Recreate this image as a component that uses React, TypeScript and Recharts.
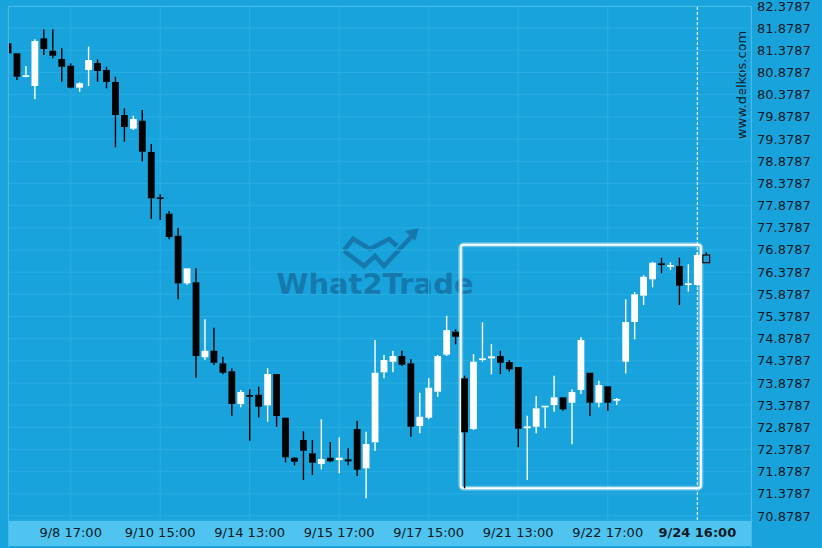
import React from "react";
import {
  Bar,
  CartesianGrid,
  ComposedChart,
  ReferenceArea,
  ReferenceLine,
  XAxis,
  YAxis,
} from "recharts";

const opens = [
  81.538, 81.312, 80.785, 80.575, 81.65, 81.371, 81.184, 81.033, 80.537, 80.936,
  81.093, 80.936, 80.665, 79.921, 79.612, 79.792, 79.087, 78.065, 77.695, 77.199,
  76.126, 76.149, 74.458, 74.606, 74.322, 74.142, 73.405, 73.608, 73.614, 73.375,
  74.081, 73.096, 72.194, 72.593, 72.293, 72.052, 72.194, 72.142, 72.158, 72.841,
  71.955, 72.541, 74.119, 74.358, 74.487, 74.322, 72.909, 73.096, 73.682, 74.516,
  75.035, 73.984, 72.841, 74.397, 74.435, 74.487, 74.352, 74.239, 72.857, 72.893,
  73.33, 73.382, 73.556, 73.434, 73.72, 74.11, 73.434, 73.804, 73.479, 74.358,
  75.254, 75.847, 76.216, 76.577, 76.5, 76.516, 76.088, 76.088, 76.764,
];

const highs = [
  81.54, 81.312, 81.026, 81.628, 81.853, 81.853, 81.425, 81.087, 80.658, 81.461,
  81.177, 81.01, 80.785, 80.072, 79.905, 80.034, 79.267, 78.133, 77.756, 77.38,
  76.464, 76.464, 75.314, 75.125, 74.471, 74.21, 73.72, 73.736, 73.795, 74.21,
  74.081, 73.1, 72.21, 72.789, 72.593, 73.059, 72.548, 72.654, 72.406, 73.028,
  72.78, 74.848, 74.509, 74.606, 74.606, 74.413, 73.659, 73.984, 74.509, 75.396,
  75.089, 74.043, 74.532, 75.247, 74.758, 74.606, 74.397, 74.239, 73.141, 73.585,
  73.366, 74.043, 73.556, 73.736, 74.909, 74.11, 73.93, 73.804, 73.54, 75.765,
  75.93, 76.313, 76.613, 76.703, 76.6, 76.703, 76.555, 76.832, 76.825,
];

const lows = [
  81.3, 80.71, 80.771, 80.275, 81.274, 81.199, 80.672, 80.523, 80.446, 80.575,
  80.672, 80.523, 79.193, 79.319, 79.583, 78.877, 77.576, 77.553, 77.118, 75.765,
  76.088, 73.998, 74.397, 74.284, 74.074, 73.141, 73.33, 72.577, 73.105, 73.006,
  72.893, 72.09, 72.022, 71.691, 71.803, 71.932, 72.09, 71.842, 72.022, 71.781,
  71.278, 72.345, 73.984, 74.119, 74.261, 72.667, 72.744, 73.059, 73.569, 74.487,
  74.751, 71.504, 72.818, 74.358, 74.074, 74.081, 74.133, 72.428, 71.691, 72.744,
  72.857, 73.231, 73.254, 72.496, 73.63, 73.134, 73.33, 73.254, 73.382, 74.097,
  74.863, 75.637, 76.036, 76.352, 76.426, 75.637, 75.94, 76.07, 76.613,
];

const closes = [
  81.312, 80.785, 80.816, 81.59, 81.409, 81.258, 81.01, 80.537, 80.636, 81.161,
  80.913, 80.665, 79.921, 79.65, 79.831, 79.093, 78.043, 78.034, 77.17, 76.126,
  76.464, 74.487, 74.606, 74.336, 74.11, 73.405, 73.675, 73.569, 73.344, 74.081,
  73.134, 72.203, 72.104, 72.352, 72.081, 72.165, 72.113, 72.194, 72.113, 71.923,
  72.503, 74.11, 74.397, 74.487, 74.291, 72.893, 73.118, 73.772, 74.487, 75.073,
  74.922, 72.767, 74.358, 74.435, 74.48, 74.336, 74.187, 72.848, 72.902, 73.308,
  73.366, 73.556, 73.285, 73.675, 74.848, 73.434, 73.833, 73.434, 73.517, 75.254,
  75.878, 76.275, 76.591, 76.539, 76.539, 76.072, 76.126, 76.764, 76.591,
];

const xTickIndex = [7, 17, 27, 37, 47, 57, 67, 77];
const xTickLabels = [
  "9/8 17:00",
  "9/10 15:00",
  "9/14 13:00",
  "9/15 17:00",
  "9/17 15:00",
  "9/21 13:00",
  "9/22 17:00",
  "9/24 16:00",
];

const yTicks = [
  70.8787, 71.3787, 71.8787, 72.3787, 72.8787, 73.3787, 73.8787, 74.3787,
  74.8787, 75.3787, 75.8787, 76.3787, 76.8787, 77.3787, 77.8787, 78.3787,
  78.8787, 79.3787, 79.8787, 80.3787, 80.8787, 81.3787, 81.8787, 82.3787,
];

// highlighted pattern box and the marker candle
const boxFrom = 50.57;
const boxTo = 77.4;
const boxLow = 71.504;
const boxHigh = 76.997;
const markerIndex = 77;

const data = opens.map((open, i) => ({
  i,
  open,
  high: highs[i],
  low: lows[i],
  close: closes[i],
}));

const BG = "#18a3dc";
const FONT = "'DejaVu Sans', sans-serif";

function Candle(props: any) {
  const { x, y, width, height, payload, index } = props;
  if (!payload) return null;
  const { open, close, high, low } = payload;
  const top = Math.min(y, y + height);
  const h = Math.abs(height);
  const ratio = h / Math.max(high - low, 1e-6);
  const py = (v: number) => top + (high - v) * ratio;
  const cx = x + width / 2;
  const live = index === data.length - 1;
  const color = live ? "#0a0a0a" : close >= open ? "#ffffff" : "#000000";
  const bodyTop = py(Math.max(open, close));
  const bodyBottom = Math.max(py(Math.min(open, close)), bodyTop + 1.6);
  return (
    <g>
      <line x1={cx} x2={cx} y1={top} y2={bodyTop} stroke={color} strokeWidth={1.4} />
      <line x1={cx} x2={cx} y1={bodyBottom} y2={top + h} stroke={color} strokeWidth={1.4} />
      <rect
        x={cx - 3.4}
        y={bodyTop}
        width={6.8}
        height={bodyBottom - bodyTop}
        fill={live ? "none" : color}
        stroke={live ? color : "none"}
        strokeWidth={1.2}
      />
    </g>
  );
}

function XTick(props: any) {
  const { x, y, payload } = props;
  const k = xTickIndex.indexOf(payload.value);
  const last = k === xTickIndex.length - 1;
  return (
    <text
      x={x}
      y={y}
      dy="0.35em"
      textAnchor="middle"
      fontFamily={FONT}
      fontSize={13}
      fontWeight={last ? "bold" : "normal"}
      fill="#0b1a24"
    >
      {xTickLabels[k]}
    </text>
  );
}

function YTick(props: any) {
  const { x, y, payload } = props;
  return (
    <text x={x} y={y} dy="0.35em" textAnchor="start" fontFamily={FONT} fontSize={13} fill="#0b1a24">
      {payload.value.toFixed(4)}
    </text>
  );
}

function Watermark() {
  const c = "#1579ae";
  return (
    <svg width={822} height={548} style={{ position: "absolute", left: 0, top: 0 }}>
      <polyline
        points="344,250 353,239 370,249 389,239 397,246"
        fill="none"
        stroke={c}
        strokeWidth={4.5}
      />
      <polyline
        points="344,251 364,266 375,256 384,266 412,236"
        fill="none"
        stroke={c}
        strokeWidth={4.5}
      />
      <polygon points="419,228 405,231 415,241" fill={c} />
      <text
        x={375}
        y={294}
        textAnchor="middle"
        fontFamily={FONT}
        fontWeight="bold"
        fontSize={29}
        fill={c}
      >
        What2Trade
      </text>
      <text
        x={0}
        y={0}
        transform="translate(746 85) rotate(-90)"
        textAnchor="middle"
        fontFamily={FONT}
        fontSize={13}
        fill="#0b1a24"
      >
        www.delkos.com
      </text>
    </svg>
  );
}

export default function App() {
  return (
    <div style={{ position: "relative", width: 822, height: 548, background: BG, overflow: "hidden" }}>
      <style>{"body{margin:0}"}</style>
      <div
        style={{
          position: "absolute",
          left: 8,
          top: 521,
          width: 743,
          height: 25,
          background: "#4fc4f0",
        }}
      />
      <Watermark />
      <div style={{ position: "absolute", left: 0, top: 0 }}>
        <ComposedChart
          width={822}
          height={548}
          data={data}
          margin={{ top: 6, right: 0, bottom: 0, left: 8 }}
        >
          <CartesianGrid stroke="#2cade3" strokeWidth={1} />
          <XAxis
            dataKey="i"
            type="number"
            domain={[0, 83]}
            ticks={xTickIndex}
            allowDataOverflow
            height={28}
            axisLine={false}
            tickLine={false}
            tickSize={0}
            tickMargin={12}
            tick={<XTick />}
            interval={0}
          />
          <YAxis
            orientation="right"
            type="number"
            domain={[70.79, 82.3787]}
            ticks={yTicks}
            allowDataOverflow
            width={71}
            axisLine={false}
            tickLine={false}
            tickSize={0}
            tickMargin={6}
            tick={<YTick />}
            interval={0}
          />
          <ReferenceLine
            x={markerIndex}
            stroke="#ffffff"
            strokeDasharray="3 2"
            strokeWidth={1}
          />
          <Bar
            dataKey={(d: any) => [d.low, d.high]}
            barSize={7}
            shape={<Candle />}
            isAnimationActive={false}
          />
          <ReferenceArea
            x1={boxFrom}
            x2={boxTo}
            y1={boxLow}
            y2={boxHigh}
            fill="none"
            stroke="rgba(255,255,255,0.35)"
            strokeWidth={5}
            radius={3}
          />
          <ReferenceArea
            x1={boxFrom}
            x2={boxTo}
            y1={boxLow}
            y2={boxHigh}
            fill="none"
            stroke="#ffffff"
            strokeWidth={2}
            radius={3}
          />
        </ComposedChart>
      </div>
      <div
        style={{
          position: "absolute",
          left: 8,
          top: 6,
          width: 742,
          height: 540,
          borderLeft: "1px solid #45bbea",
          borderTop: "1px solid #45bbea",
          borderRight: "1px solid #45bbea",
          pointerEvents: "none",
        }}
      />
    </div>
  );
}
